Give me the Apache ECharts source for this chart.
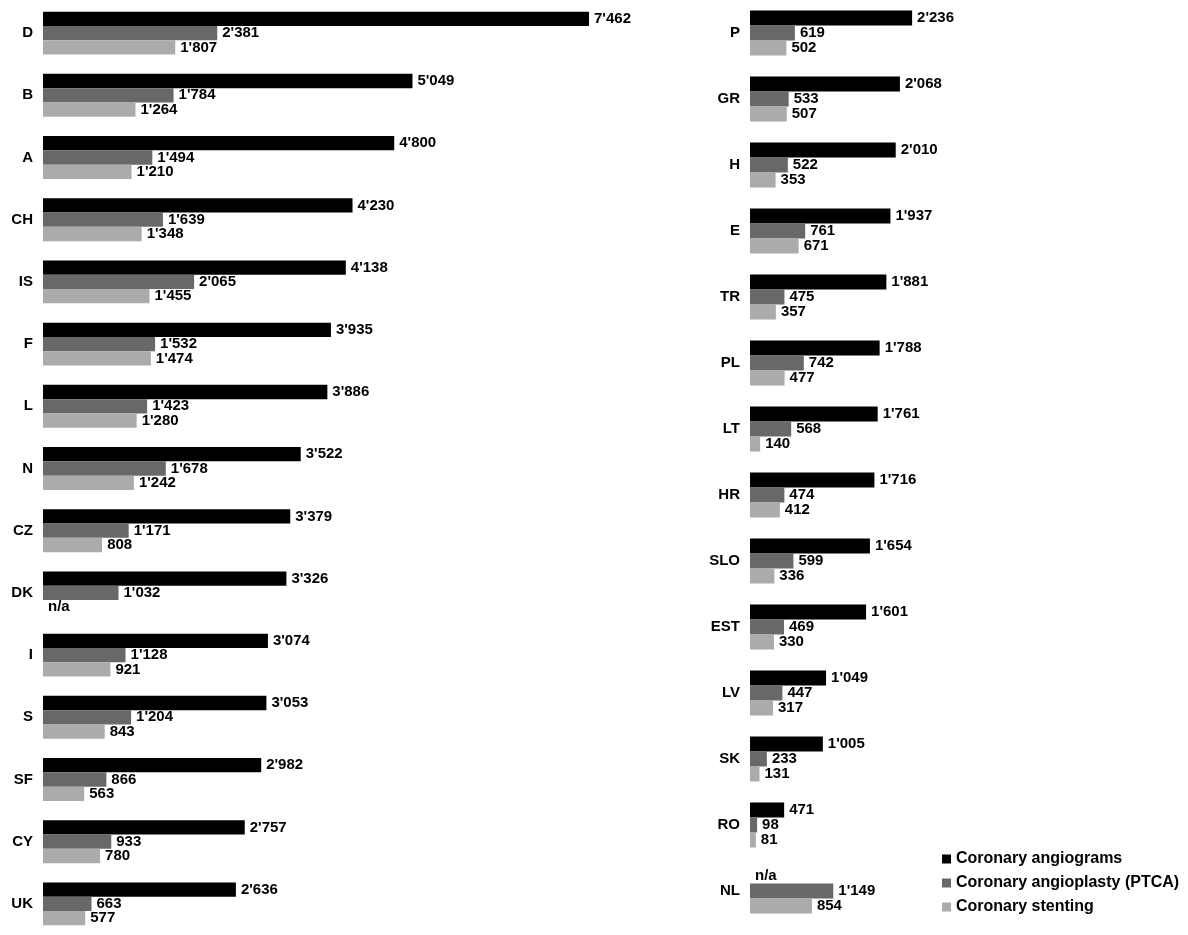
<!DOCTYPE html>
<html>
<head>
<meta charset="utf-8">
<script src="https://cdn.jsdelivr.net/npm/echarts@6/dist/echarts.min.js"></script>
<style>
  html, body { margin: 0; padding: 0; background: #fff; }
  #chart { width: 1188px; height: 935px; }
</style>
</head>
<body>
<div id="chart"></div>
<script>
// Coronary procedures per country; null means not available (n/a)
const seriesNames = ['Coronary angiograms', 'Coronary angioplasty (PTCA)', 'Coronary stenting'];
const seriesColors = ['#000000', '#686868', '#ababab'];

const leftCountries = ['D', 'B', 'A', 'CH', 'IS', 'F', 'L', 'N', 'CZ', 'DK', 'I', 'S', 'SF', 'CY', 'UK'];
const leftAngiograms = [7462, 5049, 4800, 4230, 4138, 3935, 3886, 3522, 3379, 3326, 3074, 3053, 2982, 2757, 2636];
const leftAngioplasty = [2381, 1784, 1494, 1639, 2065, 1532, 1423, 1678, 1171, 1032, 1128, 1204, 866, 933, 663];
const leftStenting = [1807, 1264, 1210, 1348, 1455, 1474, 1280, 1242, 808, null, 921, 843, 563, 780, 577];

const rightCountries = ['P', 'GR', 'H', 'E', 'TR', 'PL', 'LT', 'HR', 'SLO', 'EST', 'LV', 'SK', 'RO', 'NL'];
const rightAngiograms = [2236, 2068, 2010, 1937, 1881, 1788, 1761, 1716, 1654, 1601, 1049, 1005, 471, null];
const rightAngioplasty = [619, 533, 522, 761, 475, 742, 568, 474, 599, 469, 447, 233, 98, 1149];
const rightStenting = [502, 507, 353, 671, 357, 477, 140, 412, 336, 330, 317, 131, 81, 854];

const FONT = '"Liberation Sans", Arial, sans-serif';

function fmt(v) {
  return String(v).replace(/\B(?=(\d{3})+(?!\d))/g, "'");
}

// Missing values become an empty bar carrying an "n/a" label
function toData(arr) {
  return arr.map(v => v === null
    ? { value: 0, label: { formatter: 'n/a' } }
    : v);
}

function makeSeries(arrays, gridIndex, barWidth) {
  return arrays.map((arr, i) => ({
    name: seriesNames[i],
    type: 'bar',
    xAxisIndex: gridIndex,
    yAxisIndex: gridIndex,
    barWidth: barWidth,
    barGap: '0%',
    itemStyle: { color: seriesColors[i] },
    label: {
      show: true,
      position: 'right',
      distance: 5,
      color: '#000',
      fontFamily: FONT,
      fontWeight: 'bold',
      fontSize: 15,
      formatter: p => fmt(p.value)
    },
    emphasis: { disabled: true },
    data: toData(arr)
  }));
}

const chart = echarts.init(document.getElementById('chart'), null, { renderer: 'canvas' });

const catAxis = (data, gridIndex) => ({
  type: 'category',
  gridIndex: gridIndex,
  data: data,
  inverse: true,
  axisLine: { show: false },
  axisTick: { show: false },
  axisLabel: {
    margin: 10,
    color: '#000',
    fontFamily: FONT,
    fontWeight: 'bold',
    fontSize: 15
  }
});

const valAxis = (max, gridIndex) => ({
  type: 'value',
  gridIndex: gridIndex,
  min: 0,
  max: max,
  show: false,
  splitLine: { show: false }
});

chart.setOption({
  animation: false,
  backgroundColor: '#fff',
  grid: [
    { left: 43, top: 2, width: 585.4, height: 943.5 },
    { left: 750, top: 0, width: 362.5, height: 924 }
  ],
  xAxis: [valAxis(8000, 0), valAxis(5000, 1)],
  yAxis: [catAxis(leftCountries, 0), catAxis(rightCountries, 1)],
  legend: {
    orient: 'vertical',
    left: 937,
    top: 846,
    icon: 'rect',
    itemWidth: 9,
    itemHeight: 9,
    itemGap: 8,
    data: seriesNames,
    textStyle: {
      color: '#000',
      fontFamily: FONT,
      fontWeight: 'bold',
      fontSize: 16,
      lineHeight: 15
    }
  },
  series: [
    ...makeSeries([leftAngiograms, leftAngioplasty, leftStenting], 0, 14.3),
    ...makeSeries([rightAngiograms, rightAngioplasty, rightStenting], 1, 15)
  ]
});
</script>
</body>
</html>
